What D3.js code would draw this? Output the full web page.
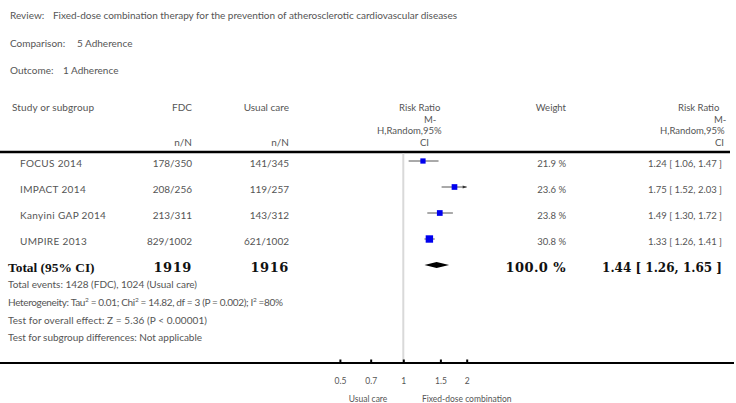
<!DOCTYPE html>
<html>
<head>
<meta charset="utf-8">
<script src="https://cdn.jsdelivr.net/npm/d3@7"></script>
<style>
  html, body { margin: 0; padding: 0; background: #fff; }
  svg { display: block; }
  .sm { font-family: Lato, "Open Sans", sans-serif; font-size: 9.5px; fill: #555; }
  .md { font-family: Lato, "Open Sans", sans-serif; font-size: 10px; fill: #555; }
  .bold { font-family: "Liberation Serif", "DejaVu Serif", serif; font-weight: bold; font-size: 13.4px; fill: #111; }
  .boldnum { font-family: "DejaVu Serif", "Liberation Serif", serif; font-weight: bold; font-size: 13px; fill: #111; }
</style>
</head>
<body>
<svg id="chart" width="736" height="403"></svg>
<script>
// Forest plot: FDC vs usual care, outcome adherence (risk ratio, M-H random effects)
const titleLabels = ["Review:", "Comparison:", "Outcome:"];
const titleValues = [
  "Fixed-dose combination therapy for the prevention of atherosclerotic cardiovascular diseases",
  "5 Adherence",
  "1 Adherence"
];
const studies = ["FOCUS 2014", "IMPACT 2014", "Kanyini GAP 2014", "UMPIRE 2013"];
const fdcEvents = [178, 208, 213, 829];
const fdcTotal = [350, 256, 311, 1002];
const ucEvents = [141, 119, 143, 621];
const ucTotal = [345, 257, 312, 1002];
const riskRatio = [1.24, 1.75, 1.49, 1.33];
const ciLow = [1.06, 1.52, 1.30, 1.26];
const ciHigh = [1.47, 2.03, 1.72, 1.41];
const weights = [21.9, 23.6, 23.8, 30.8];
const totalLabel = "Total (95% CI)";
const totalFdc = 1919;
const totalUc = 1916;
const totalWeight = 100.0;
const totalRR = 1.44;
const totalLow = 1.26;
const totalHigh = 1.65;
const axisTicks = [0.5, 0.7, 1, 1.5, 2];
const axisDomain = [0.5, 2];
const favoursLeft = "Usual care";
const favoursRight = "Fixed-dose combination";
const rrHeader = ["Risk Ratio", "M-", "H,Random,95%", "CI"];
const footnotes = [
  [["Total events: 1428 (FDC), 1024 (Usual care)", false]],
  [["Heterogeneity: Tau", false], ["2", true], [" = 0.01; Chi", false], ["2", true],
   [" = 14.82, df = 3 (P = 0.002); I", false], ["2", true], [" =80%", false]],
  [["Test for overall effect: Z = 5.36 (P < 0.00001)", false]],
  [["Test for subgroup differences: Not applicable", false]]
];

const svg = d3.select("#chart");

// Scales
const x = d3.scaleLog().domain(axisDomain).range([339.9, 466.7]);
const rowKeys = studies.concat([totalLabel]);
const y = d3.scalePoint().domain(rowKeys).range([161, 265]);
const sq = d3.scaleLinear().domain([0, 30.8]).range([0, 7.4]);

const fmt2 = d3.format(".2f");
const fmt1 = d3.format(".1f");
const ciText = (r, lo, hi) => fmt2(r) + " [ " + fmt2(lo) + ", " + fmt2(hi) + " ]";

// Title block
const titleY = [19, 47, 74];
const titleValueX = [53, 77, 63];
titleLabels.forEach((lab, i) => {
  svg.append("text").attr("class", "md").attr("x", 10).attr("y", titleY[i]).text(lab);
  const t = svg.append("text").attr("class", "md").attr("x", titleValueX[i]).attr("y", titleY[i]).text(titleValues[i]);
  if (i === 0) t.attr("textLength", 404).attr("lengthAdjust", "spacing");
});

// Column headers
const hdrY = 111;
svg.append("text").attr("class", "md").attr("x", 12).attr("y", hdrY).text("Study or subgroup")
  .attr("textLength", 82).attr("lengthAdjust", "spacing");
svg.append("text").attr("class", "md").attr("x", 192).attr("y", hdrY).attr("text-anchor", "end").text("FDC");
svg.append("text").attr("class", "md").attr("x", 289).attr("y", hdrY).attr("text-anchor", "end").text("Usual care");
svg.append("text").attr("class", "sm").attr("x", 566).attr("y", hdrY).attr("text-anchor", "end").text("Weight");
svg.append("text").attr("class", "md").attr("x", 192).attr("y", 146).attr("text-anchor", "end").text("n/N");
svg.append("text").attr("class", "md").attr("x", 289).attr("y", 146).attr("text-anchor", "end").text("n/N");

const hdrLineY = [111, 122.5, 134, 146];
const leftHdrX = [399, 424, 377, 420];
const rightHdrX = [678, 714, 660, 715];
rrHeader.forEach((s, i) => {
  svg.append("text").attr("class", "sm").attr("x", leftHdrX[i]).attr("y", hdrLineY[i]).text(s);
  svg.append("text").attr("class", "sm").attr("x", rightHdrX[i]).attr("y", hdrLineY[i]).text(s);
});

// Header rule
svg.append("line").attr("x1", 0).attr("x2", 730).attr("y1", 152).attr("y2", 152)
  .attr("stroke", "#000").attr("stroke-width", 2.5);

// Line of no effect
svg.append("line").attr("x1", x(1)).attr("x2", x(1)).attr("y1", 153.5).attr("y2", 363)
  .attr("stroke", "#d9d9d9").attr("stroke-width", 2);

// Study rows
const rows = studies.map((s, i) => ({
  name: s, fe: fdcEvents[i], ft: fdcTotal[i], ue: ucEvents[i], ut: ucTotal[i],
  rr: riskRatio[i], lo: ciLow[i], hi: ciHigh[i], w: weights[i]
}));

const g = svg.selectAll("g.row").data(rows).enter().append("g").attr("class", "row");
g.append("text").attr("class", "md").attr("x", 20).attr("y", d => y(d.name) + 6).text(d => d.name)
  .attr("letter-spacing", 0.35);
g.append("text").attr("class", "md").attr("x", 192).attr("y", d => y(d.name) + 6).attr("text-anchor", "end")
  .text(d => d.fe + "/" + d.ft);
g.append("text").attr("class", "md").attr("x", 289).attr("y", d => y(d.name) + 6).attr("text-anchor", "end")
  .text(d => d.ue + "/" + d.ut);
g.append("text").attr("class", "sm").attr("x", 566).attr("y", d => y(d.name) + 6).attr("text-anchor", "end")
  .text(d => fmt1(d.w) + " %");
g.append("text").attr("class", "sm").attr("x", 722).attr("y", d => y(d.name) + 6).attr("text-anchor", "end")
  .text(d => ciText(d.rr, d.lo, d.hi));

// Confidence intervals, clipped to the axis range with an arrow when exceeded
const [dMin, dMax] = axisDomain;
g.append("line")
  .attr("x1", d => x(Math.max(d.lo, dMin)))
  .attr("x2", d => x(Math.min(d.hi, dMax)))
  .attr("y1", d => y(d.name)).attr("y2", d => y(d.name))
  .attr("stroke", "#555").attr("stroke-width", 1);
g.filter(d => d.hi > dMax).append("path")
  .attr("d", d => {
    const xe = x(dMax), yy = y(d.name);
    return `M${xe},${yy} L${xe - 4},${yy - 1.6} L${xe - 4},${yy + 1.6} Z`;
  })
  .attr("fill", "#333");
g.append("rect")
  .attr("x", d => x(d.rr) - sq(d.w) / 2)
  .attr("y", d => y(d.name) - sq(d.w) / 2)
  .attr("width", d => sq(d.w)).attr("height", d => sq(d.w))
  .attr("fill", "#0000ee");

// Total row
const ty = y(totalLabel);
svg.append("text").attr("class", "bold").attr("x", 8).attr("y", ty + 7).text(totalLabel);
svg.append("text").attr("class", "boldnum").attr("x", 192).attr("y", ty + 7).attr("text-anchor", "end").text(totalFdc)
  .attr("letter-spacing", 0.6);
svg.append("text").attr("class", "boldnum").attr("x", 289).attr("y", ty + 7).attr("text-anchor", "end").text(totalUc)
  .attr("letter-spacing", 0.6);
svg.append("text").attr("class", "boldnum").attr("x", 566).attr("y", ty + 7).attr("text-anchor", "end").text(fmt1(totalWeight) + " %")
  .attr("letter-spacing", 0.4);
svg.append("text").attr("class", "boldnum").attr("x", 722).attr("y", ty + 7).attr("text-anchor", "end")
  .style("font-size", "12px").text(ciText(totalRR, totalLow, totalHigh));
svg.append("path")
  .attr("d", `M${x(totalLow)},${ty} L${x(totalRR)},${ty - 3} L${x(totalHigh)},${ty} L${x(totalRR)},${ty + 3} Z`)
  .attr("fill", "#000");

// Footnotes
const footY = [288, 306, 324, 341];
const footLen = [189, 275, 199, 194];
footnotes.forEach((parts, i) => {
  const t = svg.append("text").attr("class", "md").attr("x", 8).attr("y", footY[i]);
  parts.forEach(([s, sup], j) => {
    const ts = t.append("tspan").text(s);
    if (sup) ts.attr("dy", -4).attr("font-size", "6.5px");
    else if (j > 0 && parts[j - 1][1]) ts.attr("dy", 4);
  });
  t.attr("textLength", footLen[i]).attr("lengthAdjust", "spacing");
});

// Axis
const axisY = 363;
svg.append("line").attr("x1", 0).attr("x2", 734).attr("y1", axisY).attr("y2", axisY)
  .attr("stroke", "#000").attr("stroke-width", 2);
const ax = svg.append("g").attr("transform", `translate(0,${axisY})`)
  .call(d3.axisBottom(x).tickValues(axisTicks).tickFormat(d3.format("")).tickSizeInner(-3.5).tickSizeOuter(0).tickPadding(15));
ax.select(".domain").remove();
ax.attr("font-family", null).attr("font-size", null);
ax.selectAll(".tick line").attr("stroke", "#000").attr("stroke-width", 2).attr("y1", 1);
ax.selectAll(".tick text").attr("class", "sm").attr("fill", null).style("font-size", "8.5px");

svg.append("text").attr("class", "sm").attr("x", 368).attr("y", 402).attr("text-anchor", "middle")
  .style("font-size", "8.5px").text(favoursLeft);
svg.append("text").attr("class", "sm").attr("x", 466.7).attr("y", 402).attr("text-anchor", "middle")
  .style("font-size", "8.5px").text(favoursRight);
</script>
</body>
</html>
